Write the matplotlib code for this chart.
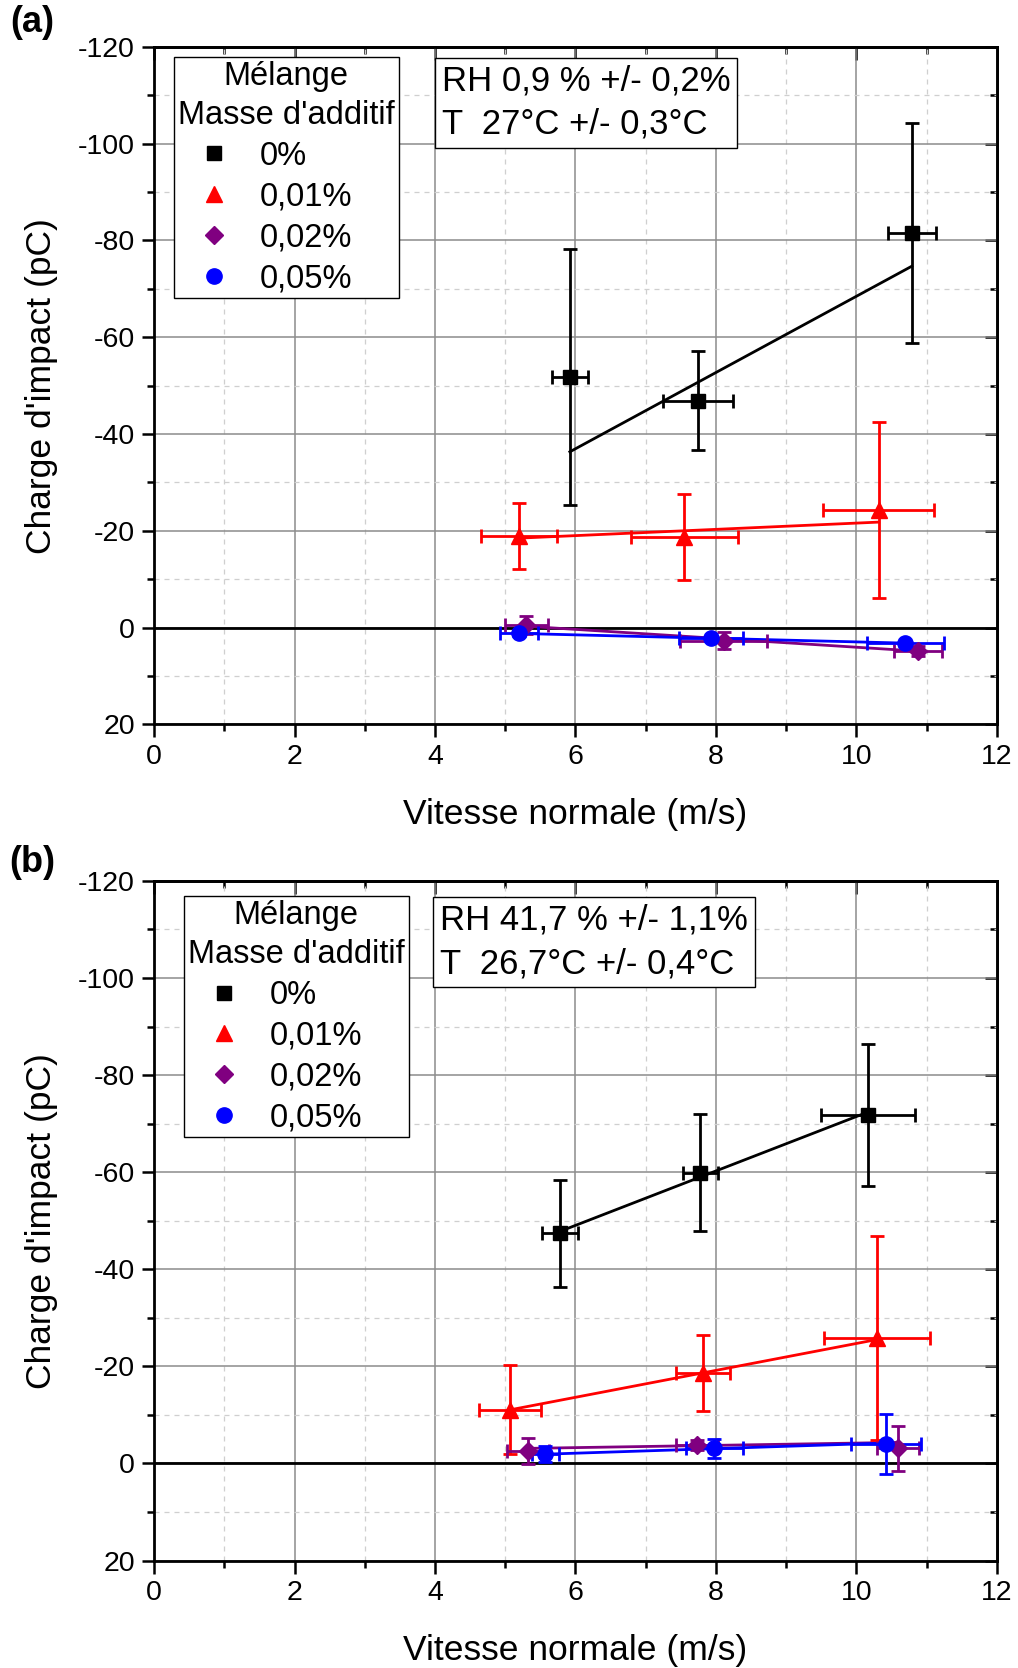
import numpy as np
import matplotlib
matplotlib.use("Agg")
import matplotlib.pyplot as plt
from matplotlib.ticker import MultipleLocator
from matplotlib.lines import Line2D

plt.rcParams['font.family'] = ['Liberation Sans', 'DejaVu Sans']
plt.rcParams['axes.unicode_minus'] = False

labels = ["0%", "0,01%", "0,02%", "0,05%"]
colors = ["#000000", "#FF0000", "#800080", "#0000FF"]
markers = ["s", "^", "D", "o"]

# Panel (a)  RH 0,9 %
a_x = [[5.92, 7.74, 10.79], [5.19, 7.55, 10.32], [5.30, 8.11, 10.88], [5.20, 7.93, 10.70]]
a_y = [[-51.8, -46.9, -81.5], [-18.9, -18.7, -24.3], [-0.5, 2.7, 4.8], [1.2, 2.2, 3.2]]
a_xerr = [[0.26, 0.50, 0.34], [0.54, 0.76, 0.79], [0.31, 0.62, 0.34], [0.27, 0.45, 0.55]]
a_yerr = [[26.4, 10.3, 22.7], [6.8, 8.9, 18.1], [1.9, 1.8, 1.0], [0.6, 0.5, 0.5]]

# Panel (b)  RH 41,7 %
b_x = [[5.78, 7.78, 10.17], [5.07, 7.82, 10.29], [5.33, 7.73, 10.60], [5.57, 7.98, 10.42]]
b_y = [[-47.4, -59.9, -71.8], [-11.1, -18.6, -25.8], [-2.6, -3.8, -3.1], [-1.9, -3.1, -4.0]]
b_xerr = [[0.25, 0.25, 0.67], [0.44, 0.385, 0.755], [0.30, 0.30, 0.30], [0.19, 0.40, 0.50]]
b_yerr = [[11.0, 12.0, 14.7], [9.1, 7.8, 21.0], [2.7, 1.0, 4.6], [1.6, 2.0, 6.1]]

box_a = "RH 0,9 % +/- 0,2%\nT  27°C +/- 0,3°C"
box_b = "RH 41,7 % +/- 1,1%\nT  26,7°C +/- 0,4°C"

fig = plt.figure(figsize=(10.18, 16.68), dpi=100)
ax_a = fig.add_axes([0.1515, 0.5657, 0.8276, 0.4062])
ax_b = fig.add_axes([0.1515, 0.0644, 0.8276, 0.4075])

msize = {"s": 10, "^": 12, "D": 9, "o": 11}


def draw(ax, X, Y, XE, YE, boxtxt, leg_anchor, box_anchor):
    ax.set_xlim(0, 12)
    ax.set_ylim(20, -120)
    ax.xaxis.set_major_locator(MultipleLocator(2))
    ax.xaxis.set_minor_locator(MultipleLocator(1))
    ax.yaxis.set_major_locator(MultipleLocator(20))
    ax.yaxis.set_minor_locator(MultipleLocator(10))
    ax.grid(which='major', color='#8c8c8c', lw=1.1, ls='-', zorder=0)
    ax.grid(which='minor', color='#cfcfcf', lw=0.9, ls=(0, (4, 4)), zorder=0)
    ax.set_axisbelow(True)
    ax.axhline(0, color='black', lw=2.0, zorder=1)
    for s in ax.spines.values():
        s.set_linewidth(2.0)
    ax.tick_params(which='major', direction='out', length=9, width=1.8, labelsize=20.5, pad=5)
    ax.tick_params(which='minor', direction='out', length=5, width=1.8)
    # inward ticks on top and right
    for loc, fn in (('top', ax.secondary_xaxis), ('right', ax.secondary_yaxis)):
        sec = fn(loc)
        if loc == 'top':
            sec.xaxis.set_major_locator(MultipleLocator(2))
            sec.xaxis.set_minor_locator(MultipleLocator(1))
        else:
            sec.yaxis.set_major_locator(MultipleLocator(20))
            sec.yaxis.set_minor_locator(MultipleLocator(10))
        sec.tick_params(which='major', direction='in', length=9, width=1.8, labelleft=False,
                        labelright=False, labeltop=False, labelbottom=False)
        sec.tick_params(which='minor', direction='in', length=5, width=1.8)
        for s in sec.spines.values():
            s.set_linewidth(2.0)

    handles = []
    for i in range(4):
        x = np.array(X[i]); y = np.array(Y[i]); ye = np.array(YE[i])
        coef = np.polyfit(x, y, 1, w=1.0 / ye)
        xf = np.array([x.min(), x.max()])
        ax.plot(xf, np.polyval(coef, xf), color=colors[i], lw=2.0, zorder=3)
        ax.errorbar(x, y, xerr=XE[i], yerr=ye, fmt=markers[i], color=colors[i],
                    ms=msize[markers[i]], ecolor=colors[i], elinewidth=2.0,
                    capsize=5, capthick=2.0, zorder=4)
        handles.append(Line2D([], [], marker=markers[i], color=colors[i], ls='none',
                              ms=msize[markers[i]]))
    leg = ax.legend(handles, labels, title="Mélange\nMasse d'additif", loc='upper left',
                    bbox_to_anchor=leg_anchor, borderaxespad=0, fontsize=23.5,
                    title_fontsize=23.5, frameon=True, fancybox=False, edgecolor='black',
                    framealpha=1, handlelength=2.2, handletextpad=0.3, labelspacing=0.3,
                    borderpad=0.12, alignment='left')
    leg.get_frame().set_linewidth(1.0)
    leg.get_title().set_multialignment('center')
    leg.get_title().set_linespacing(1.35)
    ax.text(box_anchor[0], box_anchor[1], boxtxt, transform=ax.transAxes, ha='left', va='top',
            fontsize=25, linespacing=1.4,
            bbox=dict(boxstyle='square,pad=0.2', fc='white', ec='black', lw=1.0), zorder=6)
    ax.set_xlabel("Vitesse normale (m/s)", fontsize=25.5, labelpad=20)
    ax.set_ylabel("Charge d'impact (pC)", fontsize=25.5, labelpad=14)


draw(ax_a, a_x, a_y, a_xerr, a_yerr, box_a, (0.0235, 0.9854), (0.341, 0.974))
draw(ax_b, b_x, b_y, b_xerr, b_yerr, box_b, (0.0354, 0.978), (0.339, 0.966))

fig.text(32 / 1018, 1 - 23 / 1668, "(a)", fontsize=26, fontweight='bold', ha='center', va='center')
fig.text(32 / 1018, 1 - 863 / 1668, "(b)", fontsize=26, fontweight='bold', ha='center', va='center')

fig.savefig("out.png", dpi=100)
